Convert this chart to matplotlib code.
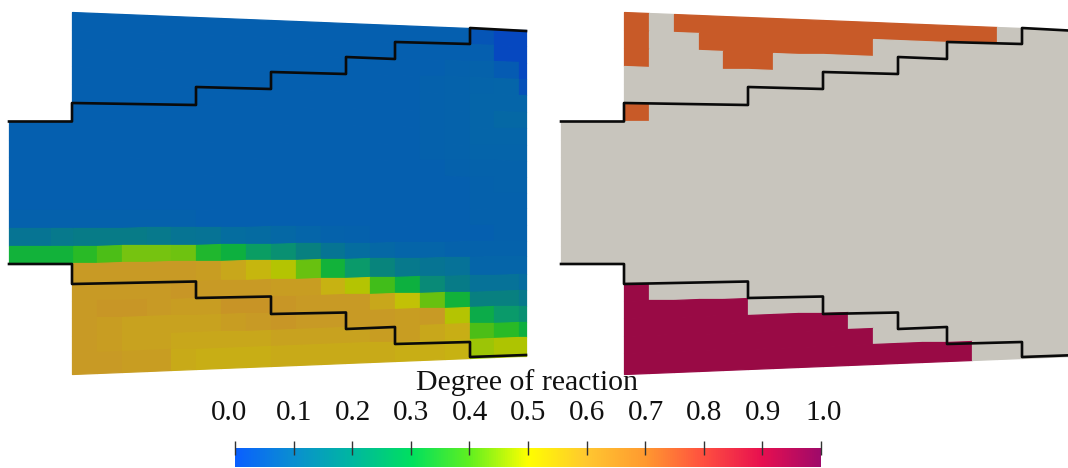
import numpy as np
import matplotlib
matplotlib.use('Agg')
import matplotlib.pyplot as plt
from matplotlib.colors import LinearSegmentedColormap

plt.rcParams['font.family'] = ['Liberation Serif', 'DejaVu Serif']

_ = np.nan

# degree of reaction, left panel, rows top to bottom
left_values = [
    [.05, .05, .05, .05, .05, .05, .05, .05, .05, .05, .05, .05, .05, .05, .05, .05, .03, .00, .00],
    [.05, .05, .05, .05, .05, .05, .05, .05, .05, .05, .05, .05, .05, .05, .05, .05, .05, .00, .00],
    [.05, .05, .05, .05, .05, .05, .05, .05, .05, .05, .05, .05, .05, .05, .05, .055, .06, .04, .00],
    [.05, .05, .05, .05, .05, .05, .05, .05, .05, .05, .05, .05, .05, .05, .055, .06, .065, .07, .02],
    [.05, .05, .05, .05, .05, .05, .05, .05, .05, .05, .05, .05, .05, .05, .055, .06, .07, .07, .07],
    [.05, .05, .05, .05, .05, .05, .05, .05, .05, .05, .05, .05, .05, .05, .055, .06, .07, .08, .08],
    [.05, .05, .05, .05, .05, .05, .05, .05, .05, .05, .05, .05, .05, .05, .055, .06, .07, .07, .07],
    [.05, .05, .05, .05, .05, .05, .05, .05, .05, .05, .05, .05, .05, .05, .055, .06, .065, .065, .065],
    [.05, .05, .05, .05, .05, .05, .05, .05, .05, .05, .05, .05, .05, .05, .05, .055, .06, .06, .06],
    [.05, .05, .05, .05, .05, .05, .05, .05, .05, .05, .05, .05, .05, .05, .05, .05, .055, .06, .06],
    [.05, .05, .05, .05, .05, .05, .05, .05, .05, .05, .05, .05, .05, .05, .05, .05, .055, .055, .055],
    [.055, .055, .055, .055, .055, .05, .05, .05, .05, .05, .05, .05, .05, .05, .05, .05, .055, .055, .055],
    [.14, .14, .14, .13, .12, .115, .10, .09, .08, .07, .06, .055, .05, .05, .05, .05, .05, .055, .055],
    [.29, .33, .38, .38, .37, .28, .25, .21, .18, .15, .12, .10, .08, .07, .07, .06, .06, .06, .06],
    [.60, .60, .60, .60, .60, .59, .57, .53, .47, .36, .26, .20, .16, .13, .12, .11, .07, .07, .07],
    [.60, .60, .60, .60, .61, .60, .60, .60, .59, .59, .54, .47, .32, .25, .17, .14, .11, .11, .10],
    [.60, .61, .61, .60, .59, .59, .62, .62, .61, .60, .60, .60, .57, .50, .36, .26, .15, .15, .13],
    [.60, .59, .58, .58, .58, .58, .59, .60, .61, .60, .60, .60, .60, .59, .60, .47, .24, .20, .18],
    [.60, .59, .58, .58, .57, .57, .57, .57, .58, .58, .58, .58, .59, .59, .57, .55, .33, .29, .25],
    [.60, .60, .59, .59, .56, .55, .55, .55, .56, .56, .56, .56, .56, .55, .55, .54, .43, .46, .46],
]

# inlet part left of the steps, rows 6 to 13 of the panel
inlet_values = [
    [.05, .05, .05],
    [.05, .05, .05],
    [.05, .05, .05],
    [.05, .05, .05],
    [.05, .05, .05],
    [.055, .055, .055],
    [.12, .12, .13],
    [.26, .26, .26],
]

# right panel keeps only low / high regions, rest is grey
O, C = .8, 1.
right_values = [
    [O, _, O, O, O, O, O, O, O, O, O, O, O, O, O, _, _, _, _],
    [O, _, _, O, O, O, O, O, O, O, _, _, _, _, _, _, _, _, _],
    [O, _, _, _, O, O, _, _, _, _, _, _, _, _, _, _, _, _, _],
    [_] * 19,
    [_] * 19,
    [O] + [_] * 18,
    [_] * 19,
    [_] * 19,
    [_] * 19,
    [_] * 19,
    [_] * 19,
    [_] * 19,
    [_] * 19,
    [_] * 19,
    [_] * 19,
    [C] + [_] * 18,
    [C, C, C, C, C] + [_] * 14,
    [C, C, C, C, C, C, C, C, C] + [_] * 10,
    [C, C, C, C, C, C, C, C, C, C] + [_] * 9,
    [C] * 14 + [_] * 5,
]
right_inlet = [[_, _, _]] * 8

# outline of the part in image pixels
outline_top_x = [9, 72, 72, 196, 196, 271, 271, 346, 346, 395, 395, 470, 470, 526]
outline_top_y = [121.5, 121.5, 103, 105, 87, 89, 72, 74, 57, 59, 42, 44, 28, 31]
outline_bot_x = [9, 72, 72, 196, 196, 271, 271, 346, 346, 395, 395, 470, 470, 526]
outline_bot_y = [264, 264, 284, 281.5, 298, 296.5, 314, 312.5, 329, 327, 344, 342, 357, 355]

bar_ticks = [0.0, 0.1, 0.2, 0.3, 0.4, 0.5, 0.6, 0.7, 0.8, 0.9, 1.0]
tick_label_x = [229, 294, 353, 411, 470, 528, 587, 646, 704, 763, 824]

row_edges = np.array([12, 30, 48, 66, 84, 103, 121, 140, 157, 175, 193, 210, 228, 246,
                      263, 283, 301, 318, 336, 353, 374], dtype=float)
col_edges = np.append(72 + 24.85 * np.arange(19), 526.)
inlet_edges = np.array([9, 30, 51, 72.])

mesh_cmap = LinearSegmentedColormap.from_list('mesh', [
    (0.00, '#0648c0'), (0.05, '#0560ae'), (0.10, '#056e9e'), (0.15, '#08807f'),
    (0.20, '#0a9a6a'), (0.25, '#0cb040'), (0.30, '#30bc20'), (0.35, '#60c010'),
    (0.40, '#85c510'), (0.45, '#aac500'), (0.50, '#c2c205'), (0.55, '#c8ae15'),
    (0.60, '#c89a25'), (0.65, '#c88a28'), (0.80, '#c85a28'), (1.00, '#990a45'),
])
mesh_cmap.set_bad('#c8c5bd')

bar_cmap = LinearSegmentedColormap.from_list('bar', [
    '#0a60ff', '#0a90d0', '#00b8a0', '#00e060', '#60f020', '#ffff00',
    '#ffc830', '#ff9a30', '#ff5040', '#e81050', '#a00a6a'])


def draw_panel(ax, values, inlet, dx):
    X, R = np.meshgrid(col_edges, row_edges)
    Y = 193 + (R - 193) * (1 - 0.1 * (X - 72) / 454)
    ax.pcolormesh(X + dx, Y, np.ma.masked_invalid(values), cmap=mesh_cmap, vmin=0, vmax=1,
                  shading='flat', antialiased=True, edgecolors='face', linewidth=0.9)
    ax.pcolormesh(inlet_edges + dx, row_edges[6:15], np.ma.masked_invalid(inlet), cmap=mesh_cmap,
                  vmin=0, vmax=1, shading='flat', antialiased=True, edgecolors='face', linewidth=0.9)
    for xs, ys in ((outline_top_x, outline_top_y), (outline_bot_x, outline_bot_y)):
        ax.plot(np.array(xs) + dx, ys, color='#0a0a0a', lw=1.9, solid_joinstyle='round')


fig = plt.figure(figsize=(10.68, 4.68), dpi=100, facecolor='w')
ax = fig.add_axes([0, 0, 1, 1])
ax.set_xlim(0, 1068)
ax.set_ylim(468, 0)
ax.axis('off')

draw_panel(ax, left_values, inlet_values, 0)
draw_panel(ax, right_values, right_inlet, 552)

ax.text(527, 383, 'Degree of reaction', ha='center', va='center', fontsize=21.5, color='#111111')
for v, lx in zip(bar_ticks, tick_label_x):
    ax.text(lx, 413, f'{v:.1f}', ha='center', va='center', fontsize=21, color='#111111')

# colour bar along the bottom
cax = fig.add_axes([235 / 1068, 1 - 467 / 468, 586 / 1068, 19 / 468])
cax.imshow(np.linspace(0, 1, 512)[None, :], cmap=bar_cmap, aspect='auto', extent=[0, 1, 0, 1])
cax.set_yticks([])
cax.set_xticks(bar_ticks)
cax.tick_params(axis='x', top=True, bottom=False, labelbottom=False, length=10, width=1,
                direction='inout', color='#333333')
for spine in ('top', 'right', 'bottom', 'left'):
    cax.spines[spine].set_visible(False)

fig.savefig('out.png', dpi=100)
